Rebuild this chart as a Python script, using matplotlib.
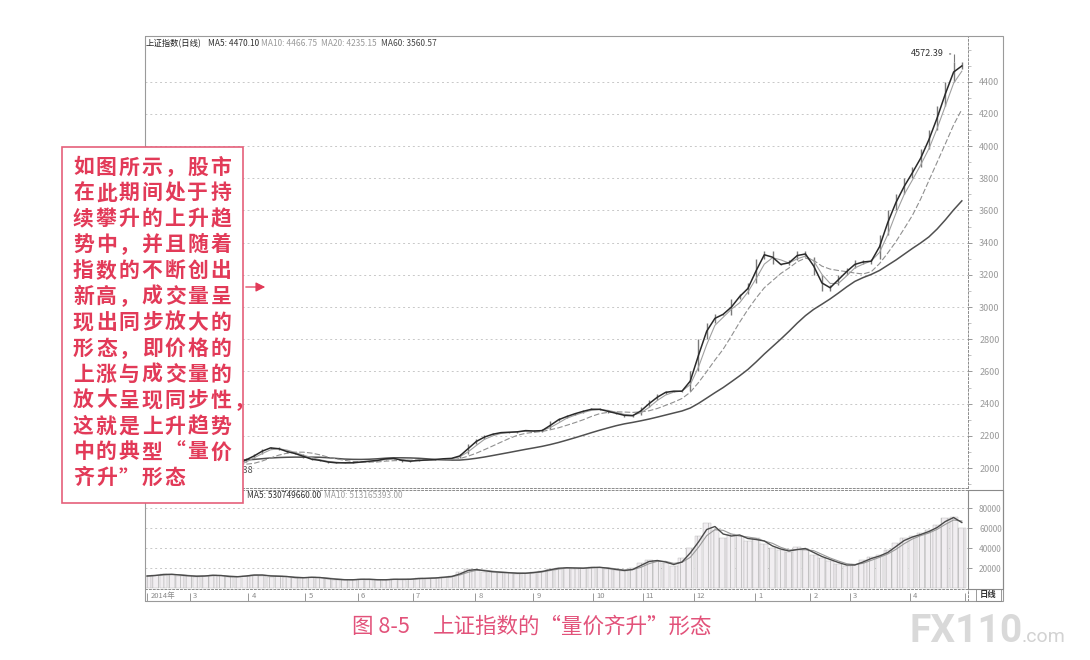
import numpy as np
import pandas as pd
import matplotlib
matplotlib.use("Agg")
import matplotlib.pyplot as plt
from matplotlib.patches import Rectangle, FancyArrowPatch

plt.rcParams['font.family'] = ['Noto Sans CJK SC', 'DejaVu Sans']
plt.rcParams['hatch.color'] = '#a9a9a9'
plt.rcParams['hatch.linewidth'] = 0.5

# ---------------------------------------------------------------------------
# data (one point ~ 3 trading days)
# ---------------------------------------------------------------------------
close = [
    2045, 2060, 2090, 2120, 2110, 2070, 2050, 2020, 1995, 1990,
    2010, 2040, 2060, 2090, 2120, 2130, 2110, 2095, 2085, 2060,
    2050, 2045, 2030, 2035, 2030, 2035, 2040, 2045, 2050, 2065,
    2055, 2040, 2045, 2050, 2050, 2055, 2060, 2060, 2090, 2150,
    2180, 2205, 2215, 2225, 2220, 2230, 2235, 2225, 2240, 2290,
    2310, 2330, 2345, 2360, 2370, 2360, 2345, 2335, 2320, 2330,
    2380, 2420, 2460, 2480, 2475, 2480, 2600, 2800, 2900, 2960,
    2950, 3050, 3080, 3150, 3300, 3350, 3270, 3260, 3290, 3350,
    3310, 3200, 3100, 3140, 3200, 3240, 3290, 3270, 3300, 3450,
    3600, 3700, 3800, 3870, 3980, 4100, 4250, 4400, 4520, 4476,
]
volume = [
    12000, 13000, 14000, 13500, 12500, 12000, 11500, 12500, 13000, 12000,
    11000, 11500, 12500, 13500, 12500, 11500, 12000, 11000, 10000, 10500,
    11000, 10000, 9000, 8500, 8000, 8500, 9000, 8500, 8000, 8500,
    9000, 8500, 9000, 10000, 9500, 10500, 11000, 12000, 16000, 19000,
    18000, 16500, 16000, 15500, 15000, 14500, 15000, 16000, 17000, 19500,
    20000, 20500, 19500, 20000, 21000, 20500, 19000, 18000, 17000, 20000,
    25000, 28000, 27000, 25000, 22000, 30000, 40000, 52000, 65000, 58000,
    50000, 54000, 52000, 47000, 50000, 44000, 40000, 38000, 36000, 41000,
    38000, 33000, 30000, 27000, 24000, 22000, 24000, 28000, 31000, 33000,
    38000, 45000, 50000, 52000, 55000, 58000, 63000, 70000, 71000, 60000,
]
month_ticks = [0, 5.2, 12.3, 19.2, 25.6, 32.3, 39.9, 46.9, 54.2, 60.2,
               66.4, 73.9, 80.6, 85.4, 92.7, 99.4]
month_labels = ["2014年", "3", "4", "5", "6", "7", "8", "9", "10", "11",
                "12", "1", "2", "3", "4", ""]
price_ticks = [2000, 2200, 2400, 2600, 2800, 3000, 3200, 3400, 3600,
               3800, 4000, 4200, 4400]
vol_ticks = [20000, 40000, 60000, 80000]
peak_idx, peak_high = 98, 4572.39
low_idx, low_val = 9, 1974.38

price_header = ["上证指数(日线)", "MA5: 4470.10", "MA10: 4466.75",
                "MA20: 4235.15", "MA60: 3560.57"]
vol_header = ["MA5: 530749660.00", "MA10: 513165393.00"]

note_lines = ["如图所示，股市", "在此期间处于持", "续攀升的上升趋",
              "势中，并且随着", "指数的不断创出", "新高，成交量呈",
              "现出同步放大的", "形态，即价格的", "上涨与成交量的",
              "放大呈现同步性，", "这就是上升趋势", "中的典型“量价",
              "齐升”形态"]
caption_num = "图 8-5"
caption_txt = "上证指数的“量价齐升”形态"

W, H = 1090, 660
RED = '#e23a58'
GRID = '#c8c8c8'


def fx(x):
    return x / W


def fy(y):
    return 1 - y / H


def dotted_frame(a):
    for side in ('left', 'top', 'bottom', 'right'):
        a.spines[side].set_color('#8c8c8c')
        a.spines[side].set_linewidth(0.7)
        a.spines[side].set_linestyle((0, (2, 2)))


def main():
    idx = np.arange(len(close))
    s = pd.Series(close, dtype=float)
    ma5 = s.rolling(2, min_periods=1).mean()
    ma10 = s.rolling(3, min_periods=1).mean()
    ma20 = s.rolling(7, min_periods=1).mean()
    ma60 = s.rolling(20, min_periods=1).mean()
    v = pd.Series(volume, dtype=float)
    vma5 = v.rolling(2, min_periods=1).mean()
    vma10 = v.rolling(3, min_periods=1).mean()
    opens = np.array([close[0]] + close[:-1])

    fig = plt.figure(figsize=(W / 100, H / 100), dpi=100)
    fig.patch.set_facecolor('white')

    # ---------------- price panel ----------------
    ax = fig.add_axes([fx(145), fy(488), (968 - 145) / W, (488 - 36) / H])
    ax.set_xlim(-0.25, 99.75)
    ax.set_ylim(1876, 4684)
    for p in price_ticks:
        ax.axhline(p, color=GRID, lw=0.7, ls=(0, (2, 3)), zorder=0)
    ax.vlines(idx, np.minimum(opens, close), np.maximum(opens, close),
              color='#7a7a7a', lw=1.0, zorder=2)
    ax.vlines(peak_idx, close[peak_idx], peak_high, color='#7a7a7a', lw=0.8)
    ax.plot(idx, ma60, color='#505050', lw=1.1, zorder=3)
    ax.plot(idx, ma20, color='#909090', lw=0.8, ls=(0, (5, 2)), zorder=3)
    ax.plot(idx, ma10, color='#a0a0a0', lw=0.8, zorder=3)
    ax.plot(idx, ma5, color='#2a2a2a', lw=1.1, zorder=4)
    ax.annotate(f"{peak_high:.2f}", xy=(peak_idx, peak_high), xytext=(-7, 0),
                textcoords='offset points', ha='right', va='center',
                fontsize=6.5, color='#333333',
                arrowprops=dict(arrowstyle='-', lw=0.6, color='#333333'))
    ax.annotate(f"{low_val:.2f}", xy=(low_idx, low_val), xytext=(23, 1),
                textcoords='offset points', ha='right', va='center',
                fontsize=6.5, color='#555555')

    ax.yaxis.tick_right()
    ax.set_yticks(price_ticks)
    ax.set_yticklabels([str(p) for p in price_ticks])
    ax.set_yticks(np.arange(1900, 4700, 100), minor=True)
    ax.tick_params(axis='y', which='major', direction='out', length=3,
                   width=0.6, color='#888888', labelsize=6.5,
                   labelcolor='#9a9a9a', pad=5)
    ax.tick_params(axis='y', which='minor', direction='out', length=2,
                   width=0.5, color='#aaaaaa')
    ax.set_xticks([])
    dotted_frame(ax)

    hx = [146, 208, 261, 321, 381]
    hc = ['#222222', '#333333', '#9a9a9a', '#9a9a9a', '#444444']
    for txt, x, c in zip(price_header, hx, hc):
        fig.text(fx(x), fy(44), txt, fontsize=6, color=c, ha='left',
                 va='center')

    # ---------------- volume panel ----------------
    axv = fig.add_axes([fx(145), fy(589), (968 - 145) / W, (589 - 490) / H])
    axv.set_xlim(-0.25, 99.75)
    axv.set_ylim(-1000, 98000)
    for t in vol_ticks:
        axv.axhline(t, color=GRID, lw=0.7, ls=(0, (2, 3)), zorder=0)
    axv.bar(idx, volume, width=0.95, color='#f1eef1', edgecolor='#b4b4b4',
            lw=0.3, hatch='|||', zorder=1)
    axv.plot(idx, vma10, color='#9a9a9a', lw=0.8, zorder=3)
    axv.plot(idx, vma5, color='#4a4a4a', lw=1.0, zorder=4)
    axv.yaxis.tick_right()
    axv.set_yticks(vol_ticks)
    axv.set_yticklabels([str(t) for t in vol_ticks])
    axv.tick_params(axis='y', direction='out', length=3, width=0.6,
                    color='#888888', labelsize=6, labelcolor='#9a9a9a', pad=5)
    axv.set_xticks([])
    dotted_frame(axv)
    fig.text(fx(247), fy(495), vol_header[0], fontsize=6, color='#333333',
             ha='left', va='center')
    fig.text(fx(324), fy(495), vol_header[1], fontsize=6, color='#a0a0a0',
             ha='left', va='center')

    # ---------------- date strip ----------------
    axd = fig.add_axes([fx(145), fy(601), (968 - 145) / W, (601 - 589) / H])
    axd.set_xlim(-0.25, 99.75)
    axd.set_ylim(0, 1)
    axd.vlines(month_ticks, 0, 0.7, color='#888888', lw=0.6)
    for m, lab in zip(month_ticks, month_labels):
        axd.text(m + 0.4, 0.45, lab, fontsize=5.5, color='#8a8a8a',
                 ha='left', va='center')
    axd.set_xticks([])
    axd.set_yticks([])
    dotted_frame(axd)

    # outer frame and right-hand boxes
    fig.add_artist(Rectangle((fx(145), fy(601)), (1003 - 145) / W,
                             (601 - 36) / H, transform=fig.transFigure,
                             fill=False, ec='#9a9a9a', lw=0.8))
    fig.add_artist(Rectangle((fx(968), fy(589)), (1003 - 968) / W,
                             (589 - 490) / H, transform=fig.transFigure,
                             fill=False, ec='#8a8a8a', lw=0.8))
    fig.add_artist(Rectangle((fx(976), fy(601)), (1001 - 976) / W,
                             (601 - 589) / H, transform=fig.transFigure,
                             fill=False, ec='#8a8a8a', lw=0.6))
    fig.text(fx(988), fy(595), "日线", fontsize=6, color='#333333',
             ha='center', va='center', weight='bold')

    # ---------------- red note box ----------------
    fig.add_artist(Rectangle((fx(62), fy(503)), (243 - 62) / W,
                             (503 - 147) / H, transform=fig.transFigure,
                             fc='white', ec='#e5607a', lw=1.2, zorder=5))
    for j, line in enumerate(note_lines):
        for k, ch in enumerate(line):
            fig.text(fx(73 + k * 22.9), fy(167 + j * 25.9), ch,
                     fontsize=15, weight='bold', color=RED, ha='left',
                     va='center', zorder=6)
    fig.add_artist(FancyArrowPatch((fx(243), fy(287)), (fx(268), fy(287)),
                                   transform=fig.transFigure,
                                   arrowstyle='-|>', mutation_scale=14,
                                   color=RED, lw=0.9, zorder=6))

    # ---------------- caption and watermark ----------------
    fig.text(fx(352), fy(627), caption_num, fontsize=15.5, color='#e2527a',
             ha='left', va='center')
    fig.text(fx(433), fy(627), caption_txt, fontsize=15.5, color='#e2527a',
             ha='left', va='center')
    fig.text(fx(910), fy(631), "FX110", fontsize=28, weight='bold',
             family='Roboto', color='#d9d9d9', ha='left', va='center')
    fig.text(fx(1022), fy(637), ".com", fontsize=14, family='Roboto',
             color='#d2d2d2', ha='left', va='center')

    fig.savefig("out.png", dpi=100, facecolor='white')
    plt.close(fig)


if __name__ == "__main__":
    main()
